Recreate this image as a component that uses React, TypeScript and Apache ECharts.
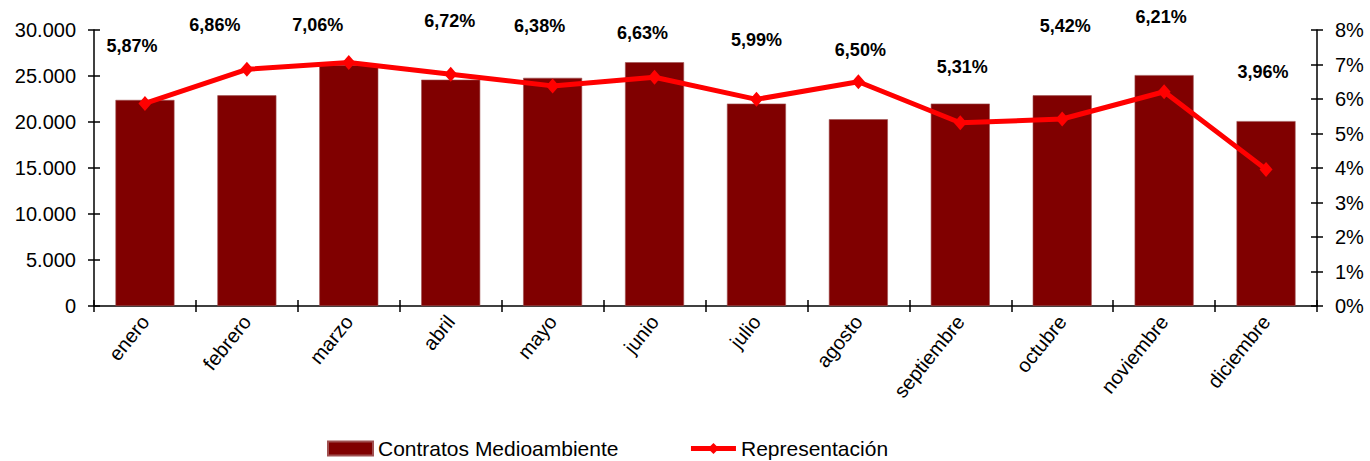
import React, { useEffect, useRef } from "react";
import * as echarts from "echarts";

const months = ["enero", "febrero", "marzo", "abril", "mayo", "junio", "julio", "agosto", "septiembre", "octubre", "noviembre", "diciembre"];
const contratos = [22400, 22900, 26200, 24600, 24800, 26500, 22000, 20300, 22000, 22900, 25100, 20100];
const representacion = [5.87, 6.86, 7.06, 6.72, 6.38, 6.63, 5.99, 6.5, 5.31, 5.42, 6.21, 3.96];
const leftTicks = { min: 0, max: 30000, interval: 5000 };
const rightTicks = { min: 0, max: 8, interval: 1 };
// label placement offsets (style, not data)
const labelOffsets: [number, number][] = [
  [-13, -57], [-32, -44], [-31, -37], [-1, -53], [-13, -60], [-12, -44],
  [0, -59], [2, -32], [2, -56], [3, -93], [-3, -75], [-3, -97],
];

const FONT = "Liberation Sans, Arial, sans-serif";

export default function App() {
  const ref = useRef<HTMLDivElement>(null);
  useEffect(() => {
    if (!ref.current) return;
    const chart = echarts.init(ref.current, null, { renderer: "svg" });
    const axisLine = { show: true, lineStyle: { color: "#000", width: 1.5 } };
    const thousands = (v: number) => String(v).replace(/\B(?=(\d{3})+(?!\d))/g, ".");
    chart.setOption({
      animation: false,
      textStyle: { fontFamily: FONT },
      grid: { left: 94, right: 53, top: 30, bottom: 155, containLabel: false },
      legend: {
        left: 327,
        top: 438,
        padding: 0,
        itemWidth: 45,
        itemHeight: 14,
        itemGap: 70,
        textStyle: { fontFamily: FONT, fontSize: 21, color: "#000" },
        data: [
          { name: "Contratos Medioambiente", icon: "rect" },
          { name: "Representación", lineStyle: { width: 5 } },
        ],
      },
      xAxis: [
        {
          type: "category",
          data: months,
          axisLine,
          axisTick: { show: true, inside: false, length: 6, lineStyle: { color: "#000", width: 1.5 } },
          axisLabel: { rotate: 51, fontSize: 20, color: "#000", margin: 12, fontFamily: FONT, interval: 0 },
        },
        {
          type: "category",
          data: months,
          position: "bottom",
          axisLine: { show: false },
          axisTick: { show: true, inside: true, length: 6, lineStyle: { color: "#000", width: 1.5 } },
          axisLabel: { show: false },
        },
      ],
      yAxis: [
        {
          type: "value",
          ...leftTicks,
          position: "left",
          axisLine,
          axisTick: { show: true, length: 6, lineStyle: { color: "#000", width: 1.5 } },
          splitLine: { show: false },
          axisLabel: { fontSize: 20, color: "#000", margin: 18, fontFamily: FONT, formatter: thousands },
        },
        {
          type: "value",
          ...rightTicks,
          position: "right",
          axisLine,
          axisTick: { show: true, length: 6, lineStyle: { color: "#000", width: 1.5 } },
          splitLine: { show: false },
          axisLabel: { fontSize: 20, color: "#000", margin: 18, fontFamily: FONT, formatter: (v: number) => `${v}%` },
        },
        {
          type: "value",
          ...leftTicks,
          position: "left",
          axisLine: { show: false },
          axisTick: { show: true, inside: true, length: 6, lineStyle: { color: "#000", width: 1.5 } },
          splitLine: { show: false },
          axisLabel: { show: false },
        },
        {
          type: "value",
          ...rightTicks,
          position: "right",
          axisLine: { show: false },
          axisTick: { show: true, inside: true, length: 6, lineStyle: { color: "#000", width: 1.5 } },
          splitLine: { show: false },
          axisLabel: { show: false },
        },
      ],
      series: [
        {
          name: "Contratos Medioambiente",
          type: "bar",
          xAxisIndex: 0,
          yAxisIndex: 0,
          data: contratos,
          barWidth: 59,
          itemStyle: { color: "#800000", borderColor: "#a05050", borderWidth: 0.6 },
        },
        {
          name: "Representación",
          type: "line",
          xAxisIndex: 0,
          yAxisIndex: 1,
          z: 5,
          data: representacion.map((v, i) => ({
            value: v,
            label: { offset: labelOffsets[i] },
          })),
          symbol: "diamond",
          symbolSize: [13, 15],
          lineStyle: { color: "#ff0000", width: 5 },
          itemStyle: { color: "#ff0000" },
          label: {
            show: true,
            position: "inside",
            fontSize: 18,
            fontWeight: "bold",
            color: "#000",
            fontFamily: FONT,
            formatter: (p: any) => `${Number(p.value).toFixed(2).replace(".", ",")}%`,
          },
        },
      ],
    });
    return () => chart.dispose();
  }, []);
  return (
    <div
      ref={ref}
      style={{ position: "fixed", left: 0, top: 0, width: 1370, height: 461, background: "#fff" }}
    />
  );
}
